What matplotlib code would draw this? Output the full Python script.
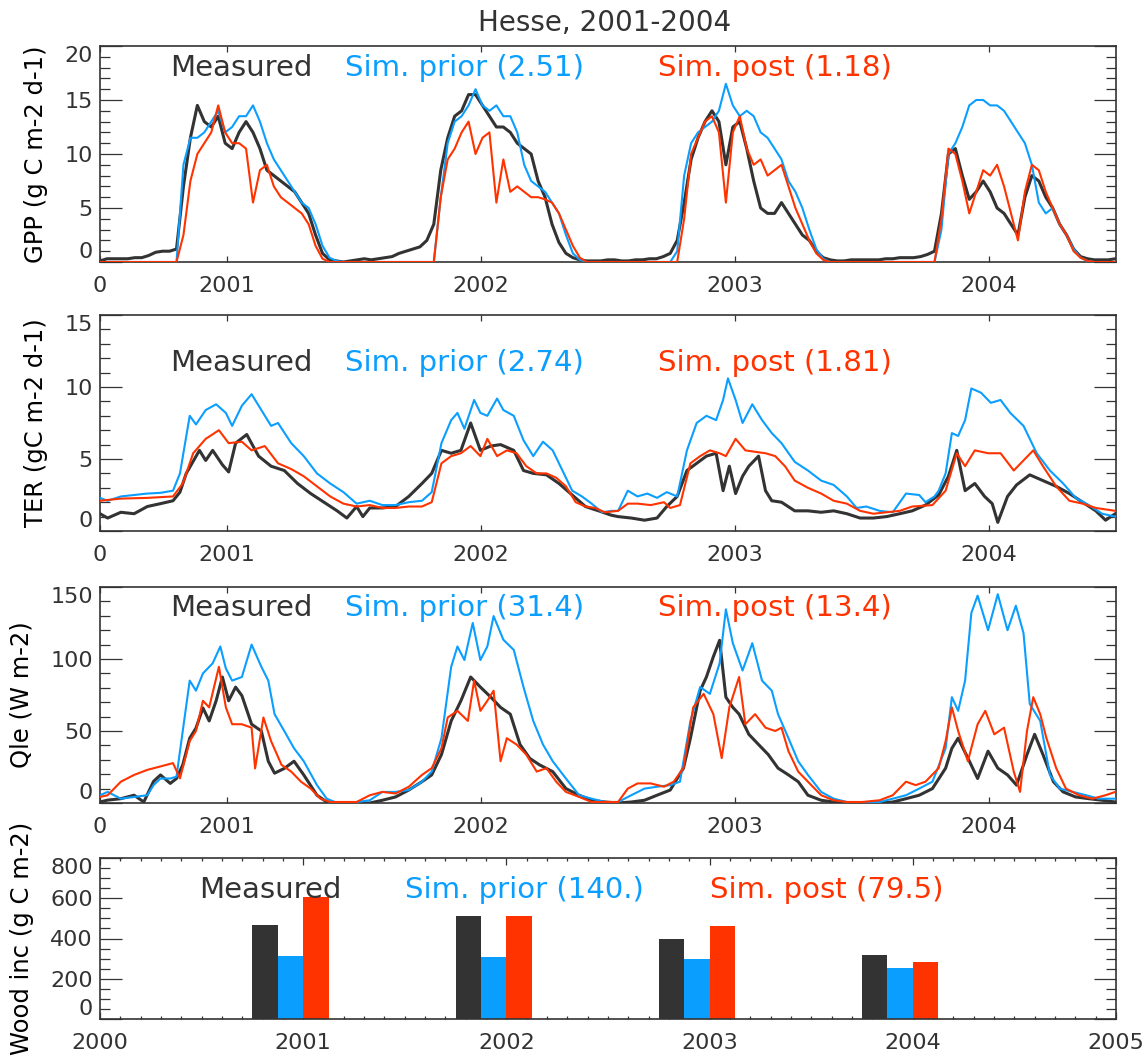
import numpy as np
import matplotlib
matplotlib.use("Agg")
import matplotlib.pyplot as plt
from matplotlib.ticker import MultipleLocator

# ---------------- data ----------------
# GPP, 10-day grid (day 0 .. 1460)
gpp_days = np.arange(0, 1461, 10)
gpp_meas = [0.1,0.3,0.3,0.3,0.3,0.4,0.4,0.6,0.9,1.0, 1.0,1.2,7,11.5,14.5,13,12.5,13.5,11,10.5,
            12,13,12,10.5,8.5,8,7.5,7,6.5,5.5, 4.5,2.5,0.8,0.2,0.1,0,0.1,
            0.2,0.3,0.2,0.3,0.4,0.5,0.8,1.0,1.2,1.4, 2.0,3.5,8.5,11.5,13.5,14,15.5,15.5,14.5,13.5,
            12.5,12.5,12,11,10.5,10,7.5,6,3.5,1.8, 0.8,0.4,0.2,0.1,0.1,0.1,0.2,
            0.2,0.1,0.1,0.2,0.2,0.3,0.3,0.5,0.8,2, 5.5,9.5,11.5,13,14,13,9,12.5,13,10.5,
            7.5,5,4.5,4.5,5.5,4.5,3.5,2.5,2,1, 0.4,0.2,0.1,0.1,0.2,0.2,
            0.2,0.2,0.2,0.3,0.3,0.4,0.4,0.4,0.5,0.7, 1.0,4.5,10,10.5,8,5.8,6.5,7.5,6.5,5,
            4.5,3.5,2.5,6,8,7.5,6,5,3.5,2.5, 1.2,0.5,0.3,0.2,0.2,0.2,0.3]
gpp_prior = [0]*12 + [9,11.5,11.5,12,13,14,12,12.5,13.5,13.5,14.5,13,11,9.5,8.5,7.5,6.5,5.5,5,3.5,1.5,0.4,0.1,0,0] \
          + [0]*12 + [6,11,13,13.5,14.5,16,14.5,14,14.5,13.5,13.5,12,9,7.5,7,6.5,5.5,4.5,2.5,0.8,0.2,0,0,0,0] \
          + [0]*9 + [1,8,11,12,12.5,13,14,16.5,14.5,13.5,14,13.5,12,11.5,10.5,9.5,7.5,6.5,5,3,1.2,0.3,0,0,0,0,0] \
          + [0]*11 + [3,10,11,12.5,14.5,15,15,14.5,14.5,14,13,12,11,9,5.5,4.5,5,3.5,2.5,1.2,0.4,0.1,0,0,0,0]
gpp_post = [0]*12 + [2.5,7.5,10,11,12,14.5,12,11,11,10.5,5.5,8.5,9,7,6,5.5,5,4.5,3.5,1.5,0.3,0,0,0,0] \
         + [0]*12 + [6,9.5,10.5,12,13,10,11.5,12,5.5,9.5,6.5,7,6.5,6,6,5.8,5.5,4.5,3,1.5,0.4,0,0,0,0] \
         + [0]*10 + [4,10,11.5,13,13.5,12,5.5,12,13.5,10.5,9,9.5,8,8.5,9,7,5,3.5,2,0.8,0.2,0,0,0,0,0] \
         + [0]*11 + [4,10.5,10,7.5,4.5,6.5,8.5,8,9,7,4.5,2,6.5,9,8.5,6.5,5,3.5,2.5,1,0.4,0.1,0,0,0,0]

# TER (day, value)
ter_meas_d = [0,11,30,49,68,87,105,115,124,143,152,162,176,185,195,211,228,246,265,284,303,322,341,355,
              369,378,388,406,425,444,463,477,491,505,519,533,547,562,576,595,609,623,642,660,679,698,717,735,
              745,764,783,801,815,830,844,858,872,886,896,905,914,924,933,947,957,966,980,999,1018,1037,1055,1074,1093,
              1112,1131,1150,1168,1187,1206,1220,1232,1244,1258,1272,1283,1291,1305,1318,1337,1356,1375,1394,1413,1432,1446,1460]
ter_meas = [1.2,0.9,1.3,1.2,1.7,1.9,2.1,2.7,4.0,5.6,4.9,5.6,4.6,4.1,6.1,6.7,5.2,4.5,4.2,3.3,2.6,2.0,1.4,0.9,
            1.7,1.0,1.6,1.6,1.7,2.4,3.3,4.0,5.6,5.4,5.6,7.5,5.6,5.9,6.0,5.6,4.2,4.0,3.9,3.3,2.5,1.7,1.4,1.1,
            1.0,0.9,0.75,0.9,1.7,2.4,4.2,4.7,5.2,5.4,2.8,4.5,2.6,3.8,4.5,5.2,2.8,2.1,2.0,1.4,1.4,1.3,1.4,1.2,0.9,
            0.9,1.0,1.2,1.4,1.8,2.5,3.8,5.6,2.8,3.3,2.4,1.9,0.6,2.4,3.2,3.9,3.5,3.1,2.6,2.0,1.4,0.75,1.2]
ter_prior_d = [0,11,30,49,68,87,105,115,129,138,152,167,181,190,204,218,232,246,256,275,293,312,331,350,
               369,388,406,425,444,463,477,491,505,514,524,538,547,557,571,580,595,609,623,637,651,665,679,693,707,722,736,
               745,759,773,787,801,815,830,844,858,872,886,896,903,914,924,938,952,966,980,999,1018,1037,1055,1074,1088,
               1102,1121,1140,1159,1178,1187,1200,1206,1216,1225,1234,1244,1253,1267,1281,1295,1309,1328,1347,1366,1385,1403,1422,1441,1460]
ter_prior = [2.3,2.1,2.4,2.5,2.6,2.65,2.8,4.0,8.0,7.4,8.4,8.8,8.2,7.3,8.7,9.5,8.4,7.3,7.5,6.1,5.2,4.0,3.3,2.7,
             1.9,2.1,1.8,1.8,2.0,2.1,2.7,6.1,7.7,8.2,7.1,9.1,8.2,8.0,9.2,8.4,8.0,6.3,5.2,6.2,5.6,4.2,2.8,2.4,1.9,1.3,1.4,
             1.4,2.8,2.4,2.6,2.3,2.7,2.4,5.6,7.5,8.0,7.7,9.1,10.6,9.1,7.5,8.8,7.7,6.8,6.1,4.8,4.2,3.5,3.2,2.4,1.6,
             1.7,1.4,1.3,2.6,2.5,2.0,2.4,2.8,4.0,6.8,6.6,7.7,9.9,9.6,8.9,9.1,8.2,7.3,5.4,4.2,3.3,2.3,1.8,1.2,1.0]
ter_post_d = [0,30,68,105,119,134,152,171,185,204,218,237,256,275,293,312,331,350,
              369,388,406,425,444,463,477,491,505,519,533,547,557,571,585,599,613,628,642,656,670,684,698,712,726,
              745,759,773,792,811,820,834,849,863,877,891,900,914,928,942,957,971,985,999,1018,1037,1055,1074,1093,
              1112,1131,1150,1168,1197,1216,1232,1244,1258,1277,1295,1314,1328,1342,1356,1375,1394,1413,1432,1460]
ter_post = [2.1,2.25,2.3,2.4,3.3,5.4,6.4,7.0,6.1,6.2,5.6,5.9,4.7,4.3,3.8,3.1,2.4,1.9,
            1.7,1.8,1.6,1.6,1.7,1.7,2.0,4.7,5.2,5.4,5.9,5.2,6.4,5.2,5.6,5.4,4.5,4.0,4.0,3.7,3.1,2.0,1.7,1.6,1.3,
            1.4,1.9,1.9,1.8,2.0,1.6,1.8,4.7,5.2,5.6,5.4,5.2,6.4,5.6,5.5,5.4,5.2,4.5,3.5,3.0,2.6,2.1,1.9,1.4,
            1.2,1.3,1.4,1.7,1.8,2.8,5.4,4.5,5.6,5.4,5.4,4.2,4.9,5.6,4.5,3.1,2.1,1.9,1.6,1.4]

# Qle (day, value)
qle_meas_d = [0,11,30,49,63,77,87,101,110,119,129,138,148,157,167,176,185,195,204,218,232,242,251,265,279,293,312,326,350,
              369,388,406,425,444,463,477,491,505,519,533,547,562,576,590,604,618,632,651,670,689,707,726,
              745,764,783,801,820,839,849,863,872,882,891,900,910,919,933,947,961,975,990,1004,1018,1037,1055,1074,
              1096,1121,1140,1159,1178,1197,1216,1225,1234,1248,1262,1277,1291,1305,1318,1333,1344,1356,1371,1385,1403,1422,1441,1460]
qle_meas = [0.7,2,3,5.4,0.7,15,19.5,13.6,17,26.5,45,52,66,57,71,87.5,71,80.5,74.6,54.7,50,29,20.7,24,29,19.5,5.4,0.7,0,
            0,0,1.9,4.2,9,14.8,19.5,33.6,57,71,87.5,80.5,73.5,66.4,61.7,40.6,31,26.5,21.8,10,5.4,1.9,0.7,
            0,0.7,1.9,5.4,9,24.2,45,78,87.5,101.6,113,73.5,66.4,61.7,47.7,40.6,33.6,24.2,19.5,14.8,5.4,1.9,0.7,0,
            0,0,0.7,3,5.4,10,24.2,38,45,31.2,17,36,24.2,19.5,12.4,33.6,47.7,33.6,14.8,7.7,4.2,3,1.9,0.7]
qle_prior_d = [0,11,30,49,68,77,87,101,110,119,129,138,148,162,173,181,190,204,218,232,242,251,265,279,293,312,326,341,
               369,388,406,425,444,463,477,491,505,514,524,536,547,557,566,580,595,609,623,637,651,670,689,707,726,
               745,764,783,801,820,834,849,863,877,891,900,910,924,938,952,966,975,990,1004,1018,1037,1055,1074,
               1096,1121,1140,1159,1178,1197,1216,1225,1234,1244,1253,1262,1277,1291,1305,1317,1328,1337,1352,1366,1380,1399,1418,1436,1460]
qle_prior = [5.4,7.7,3,4.2,5.4,12.4,17,17,18.3,50,85,78,90,97,108.7,93.4,85,87.5,110,94.6,85,61.7,50,38,29,12.4,3,0,
             0.7,1.9,7.7,7.7,9,14.8,21.8,45,94.6,108.7,99.3,125,99.3,108.7,129.8,113.4,106.3,80.5,57,40.6,29,17,5.4,3,0.7,
             0.7,5.4,10,11.3,12.4,14.8,57,80.5,75.8,97,134.5,111,92,111,85,78,61.7,45,29,19.5,7.7,3,0.7,
             0,0.7,3,5.4,10,14.8,38,73.5,64,85,132,144,120,145,120,137,118,68.8,57,19.5,10,7.7,5.4,3,3]
qle_post_d = [0,11,30,49,68,87,105,115,129,138,148,157,171,181,190,204,218,223,235,246,261,275,289,303,317,331,350,
              369,388,406,425,444,463,477,491,500,514,529,538,547,557,566,576,585,599,613,628,642,656,670,689,707,726,
              745,759,773,792,811,825,839,853,868,882,894,905,919,928,942,957,971,980,990,1004,1018,1037,1055,1074,
              1096,1121,1140,1159,1173,1187,1206,1216,1225,1234,1248,1262,1273,1286,1300,1314,1323,1333,1342,1352,1361,1375,1389,1408,1427,1446,1460]
qle_post = [4.2,5.4,14.8,19.5,23,25.4,27.7,17.1,43,50,71,66.4,94.6,66.4,54.7,54.7,52.3,24,59.4,43,26.5,21.8,14.8,10,3,0.7,0.7,
            0.7,5.4,7.7,6.6,11.3,19.5,24.2,38,59.4,64,57,85,64,71,78,29,45,40.6,33.6,21.8,24.2,14.8,7.7,4.2,0.7,0.7,
            0.7,10,13.6,13.6,11.3,14.8,24.2,66.4,75.8,61.7,31.2,66.4,87.5,54.7,61.7,52.3,50,52.3,36,21.8,14.8,5.4,1.9,0.7,
            0.7,1.9,5.4,14.8,12.4,14.8,24.2,43,66.4,50,29,54.7,64,47.7,52.3,21.8,7.7,50,73.5,61.7,45,24.2,10,5.4,3,5.4,7.7]

# Wood increment bars
wood_years = [2001, 2002, 2003, 2004]
wood_meas = [465, 510, 400, 318]
wood_prior = [315, 307, 300, 255]
wood_post = [605, 510, 462, 285]

time_ticks = [0, 182.6, 547.9, 913.1, 1278.4]
time_labels = ['0', '2001', '2002', '2003', '2004']

panels = [
    dict(name='GPP (g C m-2 d-1)', ylim=(0, 20), major=5, minor=1,
         meas=(gpp_days, gpp_meas), prior=(gpp_days, gpp_prior), post=(gpp_days, gpp_post),
         legend=('Measured', 'Sim. prior (2.51)', 'Sim. post (1.18)'), ly=0.898),
    dict(name='TER (gC m-2 d-1)', ylim=(0, 15), major=5, minor=1,
         meas=(ter_meas_d, ter_meas), prior=(ter_prior_d, ter_prior), post=(ter_post_d, ter_post),
         legend=('Measured', 'Sim. prior (2.74)', 'Sim. post (1.81)'), ly=0.778),
    dict(name='Qle (W m-2)', ylim=(0, 150), major=50, minor=10,
         meas=(qle_meas_d, qle_meas), prior=(qle_prior_d, qle_prior), post=(qle_post_d, qle_post),
         legend=('Measured', 'Sim. prior (31.4)', 'Sim. post (13.4)'), ly=0.905),
]

# ---------------- styling ----------------
C_BLACK = '#333333'
C_BLUE = '#0A9EFF'
C_RED = '#FF3300'
plt.rcParams['font.family'] = ['DejaVu Sans']
plt.rcParams['text.color'] = C_BLACK
plt.rcParams['axes.edgecolor'] = C_BLACK
plt.rcParams['xtick.color'] = C_BLACK
plt.rcParams['ytick.color'] = C_BLACK

W, H = 1148, 1061
fig = plt.figure(figsize=(W / 100, H / 100), dpi=100)

L = 100 / W
AW = 1016 / W
tops = [46, 315, 587]
PH = 216


def style_y(ax, lo, hi, major, minor, fs=16):
    ax.set_ylim(lo, hi)
    ax.set_yticks(np.arange(lo, hi + 0.001, major))
    ax.yaxis.set_minor_locator(MultipleLocator(minor))
    ax.tick_params(axis='y', which='major', direction='in', length=15.5, width=0.9,
                   labelsize=fs, pad=5, right=True, left=True)
    ax.tick_params(axis='y', which='minor', direction='in', length=7.5, width=0.9,
                   right=True, left=True)
    labs = ax.get_yticklabels()
    labs[0].set_verticalalignment('bottom')
    labs[-1].set_verticalalignment('top')


for i, p in enumerate(panels):
    bottom = 1 - (tops[i] + PH) / H
    ax = fig.add_axes([L, bottom, AW, PH / H])
    ax.plot(p['meas'][0], p['meas'][1], color=C_BLACK, lw=2.2, zorder=2)
    ax.plot(p['prior'][0], p['prior'][1], color=C_BLUE, lw=1.5, zorder=3)
    ax.plot(p['post'][0], p['post'][1], color=C_RED, lw=1.5, zorder=4)
    ax.set_xlim(0, 1461)
    ax.set_xticks(time_ticks)
    ax.set_xticklabels(time_labels)
    ax.tick_params(axis='x', which='major', direction='in', length=4.5, width=0.9,
                   labelsize=16, pad=10, top=True, bottom=True)
    style_y(ax, p['ylim'][0], p['ylim'][1], p['major'], p['minor'])
    for s in ax.spines.values():
        s.set_linewidth(1.2)
    ax.set_ylabel(p['name'], fontsize=17.5, labelpad=12)
    for txt, x, c in zip(p['legend'], [0.069, 0.241, 0.549], [C_BLACK, C_BLUE, C_RED]):
        ax.text(x, p['ly'], txt, transform=ax.transAxes, color=c, fontsize=21,
                ha='left', va='center')

# wood panel
wb = 1 - 1019 / H
axw = fig.add_axes([L, wb, AW, 161 / H])
bw = 0.125
yrs = np.array(wood_years, dtype=float)
axw.bar(yrs - 2 * bw, wood_meas, width=bw, align='edge', color=C_BLACK, zorder=2)
axw.bar(yrs - bw, wood_prior, width=bw, align='edge', color=C_BLUE, zorder=2)
axw.bar(yrs, wood_post, width=bw, align='edge', color=C_RED, zorder=2)
axw.set_xlim(2000, 2005)
axw.set_xticks(np.arange(2000, 2006, 1))
axw.set_xticklabels([str(y) for y in range(2000, 2006)])
axw.xaxis.set_minor_locator(MultipleLocator(0.1))
axw.tick_params(axis='x', which='major', direction='in', length=5, width=0.9,
                labelsize=16, pad=10, top=True, bottom=True)
axw.tick_params(axis='x', which='minor', direction='in', length=2.5, width=0.9,
                top=True, bottom=True)
style_y(axw, 0, 800, 200, 50)
for s in axw.spines.values():
    s.set_linewidth(1.2)
axw.set_ylabel('Wood inc (g C m-2)', fontsize=17.5, labelpad=12)
for txt, x, c in zip(('Measured', 'Sim. prior (140.)', 'Sim. post (79.5)'),
                     [0.098, 0.300, 0.600], [C_BLACK, C_BLUE, C_RED]):
    axw.text(x, 0.80, txt, transform=axw.transAxes, color=c, fontsize=21,
             ha='left', va='center')

fig.text(605 / W, 1 - 23 / H, 'Hesse, 2001-2004', ha='center', va='center',
         fontsize=20, color=C_BLACK)

fig.savefig('out.png', dpi=100)
